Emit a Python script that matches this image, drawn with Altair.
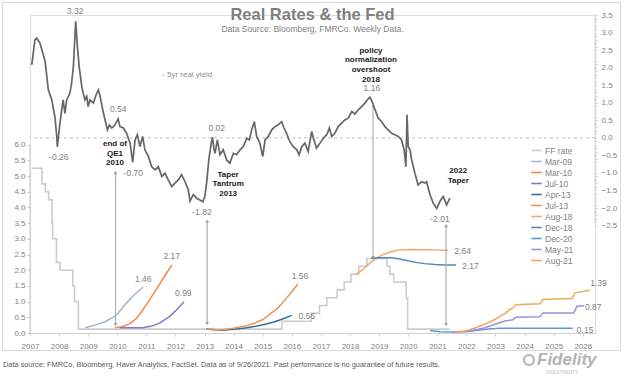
import altair as alt
import pandas as pd

FONT = "Liberation Sans"
GRAY = "#7f7f7f"

# ---------------- data ----------------
yield_years = [2007.06, 2007.17, 2007.23, 2007.34, 2007.46, 2007.52, 2007.63, 2007.75, 2007.86, 2007.92,
               2007.94, 2008.01, 2008.09, 2008.14, 2008.20, 2008.26, 2008.37, 2008.43, 2008.49, 2008.55,
               2008.57, 2008.63, 2008.69, 2008.78, 2008.83, 2008.89, 2008.95, 2009.00, 2009.06, 2009.18,
               2009.27, 2009.35, 2009.41, 2009.50, 2009.58, 2009.66, 2009.73, 2009.81, 2009.92, 2010.03,
               2010.09, 2010.21, 2010.32, 2010.44, 2010.53, 2010.61, 2010.69, 2010.78, 2010.87, 2010.95,
               2011.07, 2011.18, 2011.30, 2011.41, 2011.53, 2011.64, 2011.75, 2011.87, 2011.98, 2012.10,
               2012.21, 2012.33, 2012.44, 2012.50, 2012.61, 2012.73, 2012.84, 2012.94, 2013.01, 2013.07,
               2013.15, 2013.22, 2013.27, 2013.32, 2013.36, 2013.44, 2013.53, 2013.64, 2013.76, 2013.87,
               2013.99, 2014.10, 2014.22, 2014.33, 2014.45, 2014.54, 2014.62, 2014.71, 2014.79, 2014.90,
               2015.00, 2015.08, 2015.19, 2015.31, 2015.42, 2015.53, 2015.65, 2015.73, 2015.82, 2015.93,
               2016.05, 2016.17, 2016.25, 2016.34, 2016.45, 2016.56, 2016.68, 2016.76, 2016.85, 2016.97,
               2017.08, 2017.20, 2017.29, 2017.37, 2017.48, 2017.59, 2017.71, 2017.82, 2017.94, 2018.06,
               2018.17, 2018.28, 2018.40, 2018.51, 2018.59, 2018.68, 2018.76, 2018.86, 2018.97, 2019.09,
               2019.20, 2019.31, 2019.43, 2019.54, 2019.66, 2019.77, 2019.86, 2019.92, 2019.96, 2020.00,
               2020.06, 2020.12, 2020.23, 2020.34, 2020.46, 2020.57, 2020.63, 2020.75, 2020.86, 2020.98,
               2021.09, 2021.20, 2021.32, 2021.43]
yield_vals = [2.08, 2.79, 2.84, 2.70, 2.36, 2.17, 1.37, 1.08, 0.57, 0.04,
              -0.26, 0.28, 0.80, 1.08, 0.70, 1.08, 1.27, 1.56, 2.03, 2.98,
              3.32, 2.60, 2.03, 1.46, 1.27, 1.08, 1.18, 0.89, 1.08, 0.99,
              1.22, 1.37, 1.18, 0.80, 0.51, 0.23, 0.37, 0.28, 0.37, 0.54,
              0.32, 0.28, 0.13, -0.15, -0.70, -0.06, 0.09, -0.25, 0.04, -0.34,
              -0.53, -0.82, -0.91, -0.82, -1.10, -1.01, -1.20, -1.39, -1.29, -1.20,
              -1.05, -1.25, -1.48, -1.80, -1.62, -1.72, -1.77, -1.82, -1.67, -1.29,
              -0.60, -0.20, 0.02, -0.30, -0.44, -0.06, -0.48, -0.34, -0.63, -0.72,
              -0.44, -0.48, -0.34, -0.25, -0.01, -0.06, 0.23, 0.46, 0.04, -0.15,
              -0.53, -0.06, 0.04, 0.23, 0.32, 0.37, 0.46, 0.28, 0.13, -0.11,
              -0.25, -0.34, -0.48, -0.25, -0.15, -0.39, 0.18, -0.06, -0.29, -0.15,
              -0.01, 0.09, 0.28, 0.04, 0.13, 0.32, 0.42, 0.51, 0.56, 0.75,
              0.68, 0.80, 0.89, 0.99, 1.08, 1.16, 1.03, 0.80, 0.56, 0.46,
              0.32, 0.23, 0.13, 0.09, 0.04, -0.06, -0.34, -0.82, 0.66, -0.25,
              -0.34, -0.63, -1.01, -1.34, -1.25, -1.29, -1.25, -1.62, -1.86, -2.01,
              -1.81, -1.67, -1.91, -1.72]

ff_years = [2007.06, 2007.41, 2007.53, 2007.64, 2007.76, 2007.78, 2007.91, 2008.03, 2008.47, 2008.53,
            2008.66, 2015.66, 2016.67, 2016.95, 2017.20, 2017.56, 2017.80, 2018.03, 2018.30, 2018.58,
            2019.27, 2019.37, 2019.50, 2019.93, 2019.98, 2021.43]
ff_vals = [5.25, 4.75, 4.50, 4.25, 3.50, 3.00, 2.25, 2.00, 1.50, 1.00,
           0.125, 0.375, 0.625, 0.875, 1.125, 1.375, 1.625, 1.875, 2.125, 2.375,
           2.125, 1.875, 1.625, 1.125, 0.125, 0.125]

mar09_years = [2008.89, 2009.23, 2009.58, 2009.85, 2010.02, 2010.26, 2010.51, 2010.71, 2010.88]
mar09_vals = [0.17, 0.25, 0.36, 0.50, 0.62, 0.90, 1.15, 1.32, 1.46]
mar10_years = [2009.92, 2010.16, 2010.44, 2010.64, 2010.85, 2011.05, 2011.26, 2011.47, 2011.67, 2011.88]
mar10_vals = [0.17, 0.20, 0.30, 0.45, 0.70, 0.97, 1.27, 1.58, 1.88, 2.17]
jul10_years = [2010.09, 2010.88, 2011.19, 2011.47, 2011.81, 2012.05, 2012.29]
jul10_vals = [0.17, 0.17, 0.22, 0.32, 0.54, 0.75, 0.99]
apr13_years = [2013.05, 2013.36, 2013.63, 2014.04, 2014.39, 2014.80, 2015.08, 2015.35, 2015.66, 2016.00]
apr13_vals = [0.13, 0.10, 0.09, 0.12, 0.16, 0.22, 0.28, 0.34, 0.44, 0.56]
jul13_years = [2013.05, 2013.36, 2013.63, 2014.04, 2014.39, 2014.73, 2015.01, 2015.25, 2015.49, 2015.69,
               2015.87, 2016.04, 2016.21]
jul13_vals = [0.13, 0.10, 0.10, 0.16, 0.22, 0.32, 0.43, 0.60, 0.77, 0.97, 1.17, 1.36, 1.56]
aug18_years = [2018.20, 2018.41, 2018.62, 2018.86, 2019.10, 2019.37, 2019.65, 2020.06, 2020.57, 2021.09, 2021.37]
aug18_vals = [1.86, 2.00, 2.18, 2.36, 2.48, 2.58, 2.64, 2.66, 2.65, 2.64, 2.64]
dec18_years = [2018.72, 2019.03, 2019.44, 2019.71, 2019.99, 2020.26, 2020.57, 2020.92, 2021.26, 2021.64]
dec18_vals = [2.38, 2.40, 2.40, 2.36, 2.30, 2.25, 2.21, 2.18, 2.17, 2.17]
dec20_years = [2020.75, 2021.09, 2021.60, 2022.05, 2022.40, 2022.74, 2023.15, 2025.66]
dec20_vals = [0.08, 0.04, 0.03, 0.05, 0.09, 0.13, 0.15, 0.15]
may21_years = [2021.50, 2021.95, 2022.29, 2022.64, 2022.98, 2023.32, 2023.60, 2023.70, 2024.53, 2024.63,
               2025.69, 2025.80, 2026.04]
may21_vals = [0.03, 0.05, 0.10, 0.17, 0.28, 0.38, 0.42, 0.50, 0.52, 0.64, 0.64, 0.85, 0.87]
aug21_years = [2021.60, 2021.95, 2022.29, 2022.64, 2022.98, 2023.32, 2023.49, 2023.60, 2023.70, 2024.53,
               2024.63, 2025.63, 2025.73, 2026.25]
aug21_vals = [0.03, 0.06, 0.16, 0.28, 0.43, 0.62, 0.75, 0.80, 0.90, 0.93, 1.07, 1.10, 1.28, 1.36]

series_names = ["FF rate", "Mar-09", "Mar-10", "Jul-10", "Apr-13", "Jul-13",
                "Aug-18", "Dec-18", "Dec-20", "May-21", "Aug-21"]
series_colors = ["#cccccc", "#9db7d5", "#ee8a4a", "#8677c8", "#2f6f9f", "#ee9555",
                 "#f0a86a", "#4e88b8", "#5b9bd5", "#a08fe0", "#f2a65e"]

# value labels: (text, year, value)
right_labels = [("3.32", 2008.55, 3.62), ("-0.26", 2007.99, -0.54), ("0.54", 2010.03, 0.82),
                ("-0.70", 2010.55, -0.99), ("0.02", 2013.42, 0.29), ("-1.82", 2012.91, -2.12),
                ("1.16", 2018.75, 1.43), ("-2.01", 2021.09, -2.32)]
left_labels = [("1.46", 2010.89, 1.73), ("2.17", 2011.87, 2.45), ("0.99", 2012.27, 1.26),
               ("1.56", 2016.28, 1.83), ("0.56", 2016.51, 0.54), ("2.64", 2021.87, 2.61),
               ("2.17", 2022.14, 2.13), ("1.39", 2026.54, 1.58), ("0.87", 2026.36, 0.84),
               ("0.15", 2026.08, 0.11)]
# event notes: text, year, value of first line (right scale)
events = [("end of\nQE1\n2010", 2009.92, -0.17), ("Taper\nTantrum\n2013", 2013.81, -1.05),
          ("policy\nnormalization\novershoot\n2018", 2018.72, 2.48), ("2022\nTaper", 2021.72, -0.94)]
# arrows: year, top, bottom (left scale), has top head
arrows = [(2009.94, 5.12, 0.27, True), (2013.09, 3.56, 0.30, True),
          (2018.79, 7.26, 2.40, False), (2021.30, 3.42, 0.27, True)]

title_text = "Real Rates & the Fed"
subtitle_text = "Data Source: Bloomberg, FMRCo. Weekly Data."
footer_text = ("Data source: FMRCo, Bloomberg, Haver Analytics, FactSet. Data as of 9/26/2021. "
               "Past performance is no guarantee of future results.")

# ---------------- frames ----------------
yield_df = pd.DataFrame({"year": yield_years, "v": yield_vals})
ff_df = pd.DataFrame({"year": ff_years, "v": ff_vals, "series": "FF rate"})
curve_src = {"Mar-09": (mar09_years, mar09_vals), "Mar-10": (mar10_years, mar10_vals),
             "Jul-10": (jul10_years, jul10_vals), "Apr-13": (apr13_years, apr13_vals),
             "Jul-13": (jul13_years, jul13_vals), "Aug-18": (aug18_years, aug18_vals),
             "Dec-18": (dec18_years, dec18_vals), "Dec-20": (dec20_years, dec20_vals),
             "May-21": (may21_years, may21_vals), "Aug-21": (aug21_years, aug21_vals)}
curve_df = pd.concat([pd.DataFrame({"year": ys, "v": vs, "series": k})
                      for k, (ys, vs) in curve_src.items()], ignore_index=True)
rl_df = pd.DataFrame(right_labels, columns=["t", "year", "v"])
ll_df = pd.DataFrame(left_labels, columns=["t", "year", "v"])
ev_df = pd.DataFrame(events, columns=["t", "year", "v"])
ar_df = pd.DataFrame(arrows, columns=["year", "top", "bottom", "head"])

# ---------------- encodings ----------------
XS = alt.Scale(domain=[2007, 2026.42], nice=False, zero=False)
x_axis = alt.Axis(values=list(range(2007, 2027)), format="d", labelFontSize=8, labelColor=GRAY,
                  labelFont=FONT, domainColor="#d0d0d0", tickColor="#d0d0d0", tickSize=3,
                  labelPadding=6, grid=False, title=None, labelFlush=False, labelOverlap=False)


def X(field="year"):
    return alt.X(f"{field}:Q", scale=XS, axis=x_axis)


YLS = alt.Scale(domain=[0, 10.13], nice=False, zero=False)
yl_axis = alt.Axis(orient="left", values=[i * 0.5 for i in range(13)], format=".1f", domain=False,
                   tickSize=3, tickColor="#c8c8c8", labelColor=GRAY, labelFontSize=8, labelFont=FONT,
                   labelPadding=2, grid=False, title=None, labelOverlap=False)


def YL(field="v"):
    return alt.Y(f"{field}:Q", scale=YLS, axis=yl_axis)


YRS = alt.Scale(domain=[-5.56, 3.5], nice=False, zero=False)
yr_axis = alt.Axis(orient="right", values=[round(-2.5 + i * 0.1, 1) for i in range(61)], domain=False,
                   tickSize=2, tickColor="#d0d0d0", labelColor=GRAY, labelFontSize=8, labelFont=FONT,
                   labelPadding=4, grid=False, title=None, labelOverlap=False,
                   labelExpr="abs(datum.value*2 - round(datum.value*2)) < 0.001 ? format(datum.value, '.1f') : ''")


def YR(field="v"):
    return alt.Y(f"{field}:Q", scale=YRS, axis=yr_axis)


color = alt.Color("series:N", scale=alt.Scale(domain=series_names, range=series_colors),
                  legend=alt.Legend(orient="none", legendX=500, legendY=129, title=None,
                                    symbolType="stroke", symbolSize=110, symbolStrokeWidth=1.6,
                                    labelFontSize=8.5, labelFont=FONT, labelColor=GRAY,
                                    rowPadding=0, labelOffset=2, padding=0))

# ---------------- left group ----------------
ff_line = alt.Chart(ff_df).mark_line(interpolate="step-after", strokeWidth=1.6).encode(
    x=X(), y=YL(), color=color)
curves = alt.Chart(curve_df).mark_line(strokeWidth=1.5).encode(
    x=X(), y=YL(), color=color, order="year:Q", detail="series:N")
left_axis_line = alt.Chart(pd.DataFrame({"year": [2007], "v": [0], "v2": [6]})).mark_rule(
    color="#c8c8c8", strokeWidth=1).encode(x=X(), y=YL(), y2="v2:Q")
arrow_lines = alt.Chart(ar_df).mark_rule(color="#b0b0b0", strokeWidth=1.2).encode(
    x=X(), y=YL("top"), y2="bottom:Q")
arrow_top = alt.Chart(ar_df[ar_df["head"]]).mark_point(
    shape="triangle-up", filled=True, size=14, color="#a0a0a0", opacity=1).encode(x=X(), y=YL("top"))
arrow_bot = alt.Chart(ar_df).mark_point(
    shape="triangle-down", filled=True, size=14, color="#a0a0a0", opacity=1).encode(x=X(), y=YL("bottom"))
left_text = alt.Chart(ll_df).mark_text(font=FONT, fontSize=8.5, color=GRAY).encode(
    x=X(), y=YL(), text="t:N")

left_group = alt.layer(ff_line, curves, left_axis_line, arrow_lines, arrow_top, arrow_bot, left_text)

# ---------------- right group ----------------
yline = alt.Chart(yield_df).mark_line(color="#666666", strokeWidth=1.7).encode(x=X(), y=YR())
zero_rule = alt.Chart(pd.DataFrame({"v": [0]})).mark_rule(
    color="#bfbfbf", strokeDash=[3, 3], strokeWidth=1).encode(y=YR())
right_axis_line = alt.Chart(pd.DataFrame({"year": [2026.42], "v": [-2.5], "v2": [3.5]})).mark_rule(
    color="#d0d0d0", strokeWidth=1).encode(x=X(), y=YR(), y2="v2:Q")
right_text = alt.Chart(rl_df).mark_text(font=FONT, fontSize=8.5, color=GRAY).encode(
    x=X(), y=YR(), text="t:N")
event_text = alt.Chart(ev_df).mark_text(font=FONT, fontSize=8, fontWeight="bold", color="#1a1a1a",
                                        lineBreak="\n", lineHeight=9.7).encode(x=X(), y=YR(), text="t:N")
ylabel = alt.Chart(pd.DataFrame({"t": ["- 5yr real yield"], "year": [2011.54], "v": [1.79]})).mark_text(
    font=FONT, fontSize=8, color="#8c8c8c", align="left").encode(x=X(), y=YR(), text="t:N")

footer = alt.Chart(pd.DataFrame({"t": [footer_text]})).mark_text(
    font=FONT, fontSize=7.4, color="#595959", align="left").encode(
    x=alt.value(-27), y=alt.value(350), text="t:N")
logo = alt.Chart(pd.DataFrame({"t": ["Fidelity"]})).mark_text(
    font=FONT, fontSize=17, fontWeight="bold", fontStyle="italic", color="#b3b3b3", align="left").encode(
    x=alt.value(507), y=alt.value(345), text="t:N")
logo_sub = alt.Chart(pd.DataFrame({"t": ["INVESTMENTS"]})).mark_text(
    font=FONT, fontSize=4.5, color="#bdbdbd", align="left").encode(
    x=alt.value(516), y=alt.value(358), text="t:N")
logo_mark = alt.Chart(pd.DataFrame({"t": [1]})).mark_point(
    shape="circle", size=100, filled=False, strokeWidth=2.2, color="#b3b3b3", opacity=1).encode(
    x=alt.value(499), y=alt.value(345))
frame = alt.Chart(pd.DataFrame({"t": [1]})).mark_rect(fillOpacity=0, stroke="#d9d9d9", strokeWidth=1).encode(
    x=alt.value(-27.5), x2=alt.value(590.5), y=alt.value(-12.5), y2=alt.value(335.5))

right_group = alt.layer(frame, zero_rule, yline, right_axis_line, right_text, event_text, ylabel,
                        footer, logo, logo_sub, logo_mark)

chart = alt.layer(left_group, right_group).resolve_scale(y="independent").properties(
    width=565, height=318,
    padding={"left": 30, "top": 15, "right": 29, "bottom": 43},
    autosize=alt.AutoSizeParams(type="none"),
    title=alt.TitleParams(text=title_text, subtitle=subtitle_text, anchor="middle", font=FONT,
                          fontSize=16.5, fontWeight="bold", color=GRAY, subtitleFont=FONT,
                          subtitleFontSize=8.5, subtitleColor=GRAY, subtitlePadding=1, offset=-31),
).configure_view(stroke=None).configure(background="white")

chart.save("out.html", embed_options={"renderer": "svg", "actions": False})
